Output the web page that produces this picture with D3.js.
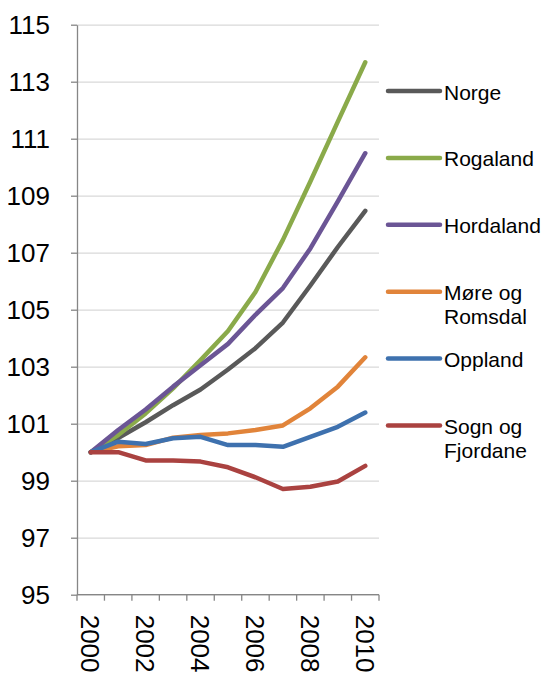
<!DOCTYPE html>
<html>
<head>
<meta charset="utf-8">
<script src="https://cdn.jsdelivr.net/npm/d3@7"></script>
<style>
  body { margin: 0; background: #fff; }
  text { font-family: Arial, "Liberation Sans", sans-serif; fill: #000; }
</style>
</head>
<body>
<div id="chart"></div>
<script>
const years = ["2000", "2001", "2002", "2003", "2004", "2005", "2006", "2007", "2008", "2009", "2010"];
const yearLabels = ["2000", "2002", "2004", "2006", "2008", "2010"];
const yTicks = [95, 97, 99, 101, 103, 105, 107, 109, 111, 113, 115];

const norge = [100, 100.5, 101.05, 101.65, 102.2, 102.9, 103.65, 104.55, 105.85, 107.2, 108.47];
const rogaland = [100, 100.6, 101.36, 102.24, 103.23, 104.25, 105.62, 107.45, 109.5, 111.6, 113.68];
const hordaland = [100, 100.78, 101.5, 102.3, 103.05, 103.8, 104.82, 105.76, 107.15, 108.8, 110.49];
const moreRomsdal = [100, 100.21, 100.25, 100.51, 100.6, 100.66, 100.78, 100.94, 101.54, 102.3, 103.33];
const oppland = [100, 100.37, 100.29, 100.49, 100.54, 100.25, 100.25, 100.19, 100.54, 100.89, 101.39];
const sognFjordane = [100, 100.0, 99.71, 99.71, 99.67, 99.47, 99.12, 98.71, 98.79, 98.97, 99.52];

const seriesNames = [["Norge"], ["Rogaland"], ["Hordaland"], ["Møre og", "Romsdal"], ["Oppland"], ["Sogn og", "Fjordane"]];
const seriesValues = [norge, rogaland, hordaland, moreRomsdal, oppland, sognFjordane];
const colors = ["#595959", "#8AAA4A", "#6B5595", "#E1843A", "#3E71AE", "#AA4240"];

const W = 544;
const H = 677;
const margin = { top: 24.7, left: 77, bottom: H - 594.7, right: W - 379 };
const width = W - margin.left - margin.right;
const height = H - margin.top - margin.bottom;

const svg = d3
  .select("#chart")
  .append("svg")
  .attr("width", W)
  .attr("height", H);

const xScale = d3.scaleBand().domain(years).range([0, width]);
const yScale = d3.scaleLinear().domain([95, 115]).range([height, 0]);

const chart = svg
  .append("g")
  .attr("transform", `translate(${margin.left}, ${margin.top})`);

// horizontal gridlines
chart
  .append("g")
  .attr("class", "grid")
  .call(d3.axisLeft(yScale).tickValues(yTicks).tickSize(-width).tickFormat(""))
  .call((g) => g.select(".domain").remove())
  .call((g) => g.selectAll("line").attr("stroke", "#d9d9d9").attr("stroke-width", 1.3));

// y axis
chart
  .append("g")
  .call(d3.axisLeft(yScale).tickValues(yTicks).tickSize(6).tickPadding(21).tickSizeOuter(0))
  .call((g) => g.select(".domain").attr("stroke", "#868686").attr("stroke-width", 1.3))
  .call((g) => g.selectAll(".tick line").attr("stroke", "#868686").attr("stroke-width", 1.3))
  .call((g) => g.selectAll(".tick text").attr("font-size", 26).attr("dy", "0.33em"));

// x axis line and ticks at band edges
const xAxis = chart.append("g").attr("transform", `translate(0, ${height})`);
xAxis
  .append("line")
  .attr("x1", 0)
  .attr("x2", width)
  .attr("stroke", "#868686")
  .attr("stroke-width", 1.3);
xAxis
  .selectAll(".xtick")
  .data(years.concat([null]))
  .enter()
  .append("line")
  .attr("x1", (d) => (d ? xScale(d) : width))
  .attr("x2", (d) => (d ? xScale(d) : width))
  .attr("y1", 0)
  .attr("y2", 6)
  .attr("stroke", "#868686")
  .attr("stroke-width", 1.3);
xAxis
  .selectAll(".xlabel")
  .data(yearLabels)
  .enter()
  .append("text")
  .attr("font-size", 26)
  .attr("transform", (d) => `translate(${xScale(d) + xScale.bandwidth() / 2}, 20) rotate(90)`)
  .attr("dy", "0.36em")
  .text((d) => d);

// lines
const line = d3
  .line()
  .x((d, i) => xScale(years[i]) + xScale.bandwidth() / 2)
  .y((d) => yScale(d));

seriesValues.forEach((vals, i) => {
  chart
    .append("path")
    .attr("d", line(vals))
    .style("fill", "none")
    .style("stroke", colors[i])
    .style("stroke-width", 4.5)
    .style("stroke-linecap", "round")
    .style("stroke-linejoin", "round");
});

// legend
const legend = svg.append("g").attr("transform", "translate(386, 91)");
const item = legend
  .selectAll(".item")
  .data(seriesNames)
  .enter()
  .append("g")
  .attr("transform", (d, i) => `translate(0, ${i * 66.9})`);
item
  .append("line")
  .attr("x1", 2)
  .attr("x2", 54)
  .attr("stroke", (d, i) => colors[i])
  .attr("stroke-width", 4.5)
  .attr("stroke-linecap", "round");
item
  .append("text")
  .attr("x", 58)
  .attr("font-size", 21)
  .selectAll("tspan")
  .data((d) => d)
  .enter()
  .append("tspan")
  .attr("x", 58)
  .attr("y", (d, j) => 8.5 + j * 23.5)
  .text((d) => d);
</script>
</body>
</html>
